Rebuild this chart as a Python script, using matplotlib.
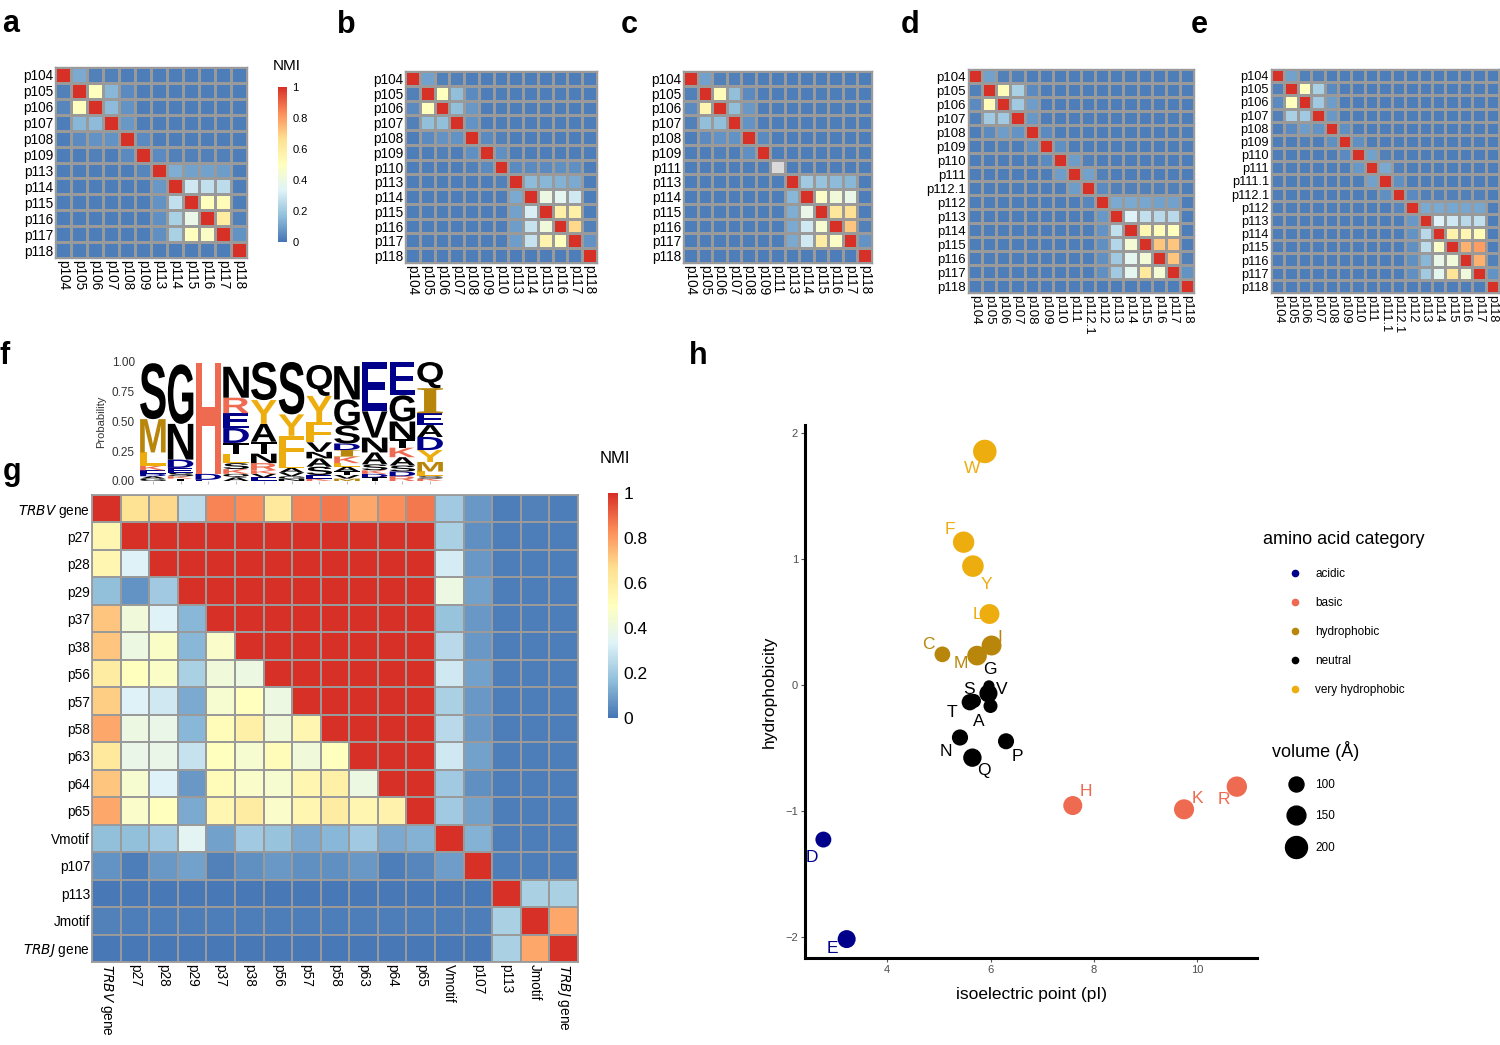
import numpy as np
import matplotlib
matplotlib.use("Agg")
import matplotlib.pyplot as plt
from matplotlib.colors import LinearSegmentedColormap
from matplotlib.cm import ScalarMappable
from matplotlib.textpath import TextPath
from matplotlib.font_manager import FontProperties
from matplotlib.patches import PathPatch
from matplotlib.transforms import Affine2D
from matplotlib.lines import Line2D

plt.rcParams['font.family'] = ['Liberation Sans', 'DejaVu Sans']

nan = np.nan

# ---------------------------------------------------------------- panels a-e
labels_a = ['p104', 'p105', 'p106', 'p107', 'p108', 'p109', 'p113', 'p114', 'p115', 'p116', 'p117', 'p118']
nmi_a = [
    [1.00, 0.12, 0.03, 0.03, 0.02, 0.02, 0.02, 0.02, 0.02, 0.02, 0.02, 0.02],
    [0.03, 1.00, 0.50, 0.15, 0.05, 0.02, 0.02, 0.02, 0.02, 0.02, 0.02, 0.02],
    [0.04, 0.50, 1.00, 0.16, 0.07, 0.02, 0.02, 0.02, 0.02, 0.02, 0.02, 0.02],
    [0.02, 0.15, 0.16, 1.00, 0.08, 0.02, 0.02, 0.02, 0.02, 0.02, 0.02, 0.02],
    [0.02, 0.05, 0.07, 0.07, 1.00, 0.05, 0.02, 0.02, 0.02, 0.02, 0.02, 0.02],
    [0.02, 0.02, 0.03, 0.02, 0.05, 1.00, 0.05, 0.03, 0.03, 0.03, 0.03, 0.02],
    [0.02, 0.02, 0.02, 0.02, 0.02, 0.04, 1.00, 0.13, 0.10, 0.10, 0.09, 0.02],
    [0.02, 0.02, 0.02, 0.02, 0.02, 0.02, 0.08, 1.00, 0.30, 0.27, 0.26, 0.02],
    [0.02, 0.02, 0.02, 0.02, 0.02, 0.02, 0.07, 0.27, 1.00, 0.50, 0.52, 0.02],
    [0.02, 0.02, 0.02, 0.02, 0.02, 0.02, 0.06, 0.22, 0.38, 1.00, 0.60, 0.03],
    [0.02, 0.02, 0.02, 0.02, 0.02, 0.02, 0.06, 0.22, 0.50, 0.48, 1.00, 0.07],
    [0.02, 0.02, 0.02, 0.02, 0.02, 0.02, 0.02, 0.02, 0.02, 0.02, 0.02, 1.00],
]

labels_b = ['p104', 'p105', 'p106', 'p107', 'p108', 'p109', 'p110', 'p113', 'p114', 'p115', 'p116', 'p117', 'p118']
nmi_b = [
    [1.00, 0.10, 0.03, 0.03, 0.02, 0.02, 0.02, 0.02, 0.02, 0.02, 0.02, 0.02, 0.02],
    [0.03, 1.00, 0.50, 0.17, 0.05, 0.02, 0.02, 0.02, 0.02, 0.02, 0.02, 0.02, 0.02],
    [0.05, 0.50, 1.00, 0.17, 0.08, 0.02, 0.02, 0.02, 0.02, 0.02, 0.02, 0.02, 0.02],
    [0.03, 0.17, 0.17, 1.00, 0.07, 0.02, 0.02, 0.02, 0.02, 0.02, 0.02, 0.02, 0.02],
    [0.02, 0.05, 0.07, 0.07, 1.00, 0.05, 0.03, 0.02, 0.02, 0.02, 0.02, 0.02, 0.02],
    [0.02, 0.02, 0.03, 0.02, 0.06, 1.00, 0.06, 0.02, 0.02, 0.02, 0.02, 0.02, 0.02],
    [0.02, 0.02, 0.02, 0.02, 0.03, 0.05, 1.00, 0.05, 0.05, 0.05, 0.06, 0.06, 0.02],
    [0.02, 0.02, 0.02, 0.02, 0.02, 0.02, 0.03, 1.00, 0.16, 0.15, 0.14, 0.12, 0.02],
    [0.02, 0.02, 0.02, 0.02, 0.02, 0.02, 0.02, 0.12, 1.00, 0.40, 0.36, 0.30, 0.02],
    [0.02, 0.02, 0.02, 0.02, 0.02, 0.02, 0.02, 0.10, 0.32, 1.00, 0.58, 0.58, 0.02],
    [0.02, 0.02, 0.02, 0.02, 0.02, 0.02, 0.02, 0.09, 0.28, 0.42, 1.00, 0.68, 0.03],
    [0.02, 0.02, 0.02, 0.02, 0.02, 0.02, 0.02, 0.09, 0.28, 0.56, 0.50, 1.00, 0.07],
    [0.02, 0.02, 0.02, 0.02, 0.02, 0.02, 0.02, 0.02, 0.02, 0.02, 0.02, 0.02, 1.00],
]

labels_c = ['p104', 'p105', 'p106', 'p107', 'p108', 'p109', 'p111', 'p113', 'p114', 'p115', 'p116', 'p117', 'p118']
nmi_c = [
    [1.00, 0.10, 0.03, 0.03, 0.02, 0.02, 0.02, 0.02, 0.02, 0.02, 0.02, 0.02, 0.02],
    [0.03, 1.00, 0.52, 0.17, 0.05, 0.02, 0.02, 0.02, 0.02, 0.02, 0.02, 0.02, 0.02],
    [0.05, 0.55, 1.00, 0.17, 0.08, 0.02, 0.02, 0.02, 0.02, 0.02, 0.02, 0.02, 0.02],
    [0.03, 0.17, 0.17, 1.00, 0.07, 0.02, 0.02, 0.02, 0.02, 0.02, 0.02, 0.02, 0.02],
    [0.02, 0.05, 0.07, 0.07, 1.00, 0.05, 0.02, 0.02, 0.02, 0.02, 0.02, 0.02, 0.02],
    [0.02, 0.02, 0.03, 0.02, 0.06, 1.00, 0.02, 0.02, 0.02, 0.02, 0.02, 0.02, 0.02],
    [0.02, 0.02, 0.02, 0.02, 0.02, 0.02, nan,  0.02, 0.02, 0.02, 0.02, 0.02, 0.02],
    [0.02, 0.02, 0.02, 0.02, 0.02, 0.02, 0.02, 1.00, 0.20, 0.18, 0.16, 0.15, 0.02],
    [0.02, 0.02, 0.02, 0.02, 0.02, 0.02, 0.02, 0.15, 1.00, 0.48, 0.42, 0.38, 0.02],
    [0.02, 0.02, 0.02, 0.02, 0.02, 0.02, 0.02, 0.13, 0.38, 1.00, 0.63, 0.66, 0.02],
    [0.02, 0.02, 0.02, 0.02, 0.02, 0.02, 0.02, 0.12, 0.30, 0.45, 1.00, 0.72, 0.03],
    [0.02, 0.02, 0.02, 0.02, 0.02, 0.02, 0.02, 0.12, 0.30, 0.60, 0.48, 1.00, 0.07],
    [0.02, 0.02, 0.02, 0.02, 0.02, 0.02, 0.02, 0.02, 0.02, 0.02, 0.02, 0.02, 1.00],
]

labels_d = ['p104', 'p105', 'p106', 'p107', 'p108', 'p109', 'p110', 'p111', 'p112.1', 'p112',
            'p113', 'p114', 'p115', 'p116', 'p117', 'p118']
nmi_d = [
    [1.00, 0.10, 0.03, 0.03, 0.02, 0.02, 0.02, 0.02, 0.02, 0.02, 0.02, 0.02, 0.02, 0.02, 0.02, 0.02],
    [0.03, 1.00, 0.52, 0.22, 0.05, 0.02, 0.02, 0.02, 0.02, 0.02, 0.02, 0.02, 0.02, 0.02, 0.02, 0.02],
    [0.05, 0.52, 1.00, 0.20, 0.09, 0.02, 0.02, 0.02, 0.02, 0.02, 0.02, 0.02, 0.02, 0.02, 0.02, 0.02],
    [0.03, 0.20, 0.20, 1.00, 0.08, 0.02, 0.02, 0.02, 0.02, 0.02, 0.02, 0.02, 0.02, 0.02, 0.02, 0.02],
    [0.02, 0.05, 0.09, 0.07, 1.00, 0.05, 0.02, 0.02, 0.02, 0.02, 0.02, 0.02, 0.02, 0.02, 0.02, 0.02],
    [0.02, 0.02, 0.03, 0.02, 0.06, 1.00, 0.06, 0.02, 0.02, 0.02, 0.02, 0.02, 0.02, 0.02, 0.02, 0.02],
    [0.02, 0.02, 0.02, 0.02, 0.02, 0.05, 1.00, 0.09, 0.03, 0.02, 0.02, 0.02, 0.02, 0.02, 0.02, 0.02],
    [0.02, 0.02, 0.02, 0.02, 0.02, 0.02, 0.09, 1.00, 0.10, 0.03, 0.02, 0.02, 0.02, 0.02, 0.02, 0.02],
    [0.02, 0.02, 0.02, 0.02, 0.02, 0.02, 0.02, 0.09, 1.00, 0.05, 0.03, 0.03, 0.03, 0.03, 0.03, 0.02],
    [0.02, 0.02, 0.02, 0.02, 0.02, 0.02, 0.02, 0.02, 0.04, 1.00, 0.12, 0.12, 0.11, 0.10, 0.10, 0.02],
    [0.02, 0.02, 0.02, 0.02, 0.02, 0.02, 0.02, 0.02, 0.02, 0.08, 1.00, 0.33, 0.27, 0.25, 0.25, 0.02],
    [0.02, 0.02, 0.02, 0.02, 0.02, 0.02, 0.02, 0.02, 0.02, 0.07, 0.27, 1.00, 0.55, 0.52, 0.50, 0.02],
    [0.02, 0.02, 0.02, 0.02, 0.02, 0.02, 0.02, 0.02, 0.02, 0.06, 0.24, 0.44, 1.00, 0.72, 0.72, 0.02],
    [0.02, 0.02, 0.02, 0.02, 0.02, 0.02, 0.02, 0.02, 0.02, 0.06, 0.20, 0.36, 0.43, 1.00, 0.72, 0.03],
    [0.02, 0.02, 0.02, 0.02, 0.02, 0.02, 0.02, 0.02, 0.02, 0.06, 0.20, 0.36, 0.62, 0.44, 1.00, 0.07],
    [0.02, 0.02, 0.02, 0.02, 0.02, 0.02, 0.02, 0.02, 0.02, 0.02, 0.02, 0.02, 0.02, 0.02, 0.02, 1.00],
]

labels_e = ['p104', 'p105', 'p106', 'p107', 'p108', 'p109', 'p110', 'p111', 'p111.1', 'p112.1', 'p112',
            'p113', 'p114', 'p115', 'p116', 'p117', 'p118']
nmi_e = [
    [1.00, 0.10, 0.03, 0.03, 0.02, 0.02, 0.02, 0.02, 0.02, 0.02, 0.02, 0.02, 0.02, 0.02, 0.02, 0.02, 0.02],
    [0.03, 1.00, 0.50, 0.22, 0.05, 0.02, 0.02, 0.02, 0.02, 0.02, 0.02, 0.02, 0.02, 0.02, 0.02, 0.02, 0.02],
    [0.05, 0.50, 1.00, 0.20, 0.09, 0.02, 0.02, 0.02, 0.02, 0.02, 0.02, 0.02, 0.02, 0.02, 0.02, 0.02, 0.02],
    [0.03, 0.22, 0.20, 1.00, 0.08, 0.02, 0.02, 0.02, 0.02, 0.02, 0.02, 0.02, 0.02, 0.02, 0.02, 0.02, 0.02],
    [0.02, 0.05, 0.09, 0.07, 1.00, 0.06, 0.02, 0.02, 0.02, 0.02, 0.02, 0.02, 0.02, 0.02, 0.02, 0.02, 0.02],
    [0.02, 0.02, 0.03, 0.02, 0.06, 1.00, 0.06, 0.02, 0.02, 0.02, 0.02, 0.02, 0.02, 0.02, 0.02, 0.02, 0.02],
    [0.02, 0.02, 0.02, 0.02, 0.02, 0.05, 1.00, 0.10, 0.03, 0.02, 0.02, 0.02, 0.02, 0.02, 0.02, 0.02, 0.02],
    [0.02, 0.02, 0.02, 0.02, 0.02, 0.02, 0.08, 1.00, 0.12, 0.03, 0.02, 0.02, 0.02, 0.02, 0.02, 0.02, 0.02],
    [0.02, 0.02, 0.02, 0.02, 0.02, 0.02, 0.02, 0.10, 1.00, 0.06, 0.02, 0.02, 0.02, 0.02, 0.02, 0.02, 0.02],
    [0.02, 0.02, 0.02, 0.02, 0.02, 0.02, 0.02, 0.02, 0.06, 1.00, 0.05, 0.03, 0.03, 0.03, 0.03, 0.03, 0.02],
    [0.02, 0.02, 0.02, 0.02, 0.02, 0.02, 0.02, 0.02, 0.02, 0.04, 1.00, 0.12, 0.12, 0.11, 0.11, 0.11, 0.02],
    [0.02, 0.02, 0.02, 0.02, 0.02, 0.02, 0.02, 0.02, 0.02, 0.02, 0.08, 1.00, 0.33, 0.30, 0.25, 0.27, 0.02],
    [0.02, 0.02, 0.02, 0.02, 0.02, 0.02, 0.02, 0.02, 0.02, 0.02, 0.07, 0.25, 1.00, 0.57, 0.55, 0.52, 0.02],
    [0.02, 0.02, 0.02, 0.02, 0.02, 0.02, 0.02, 0.02, 0.02, 0.02, 0.06, 0.26, 0.48, 1.00, 0.76, 0.80, 0.02],
    [0.02, 0.02, 0.02, 0.02, 0.02, 0.02, 0.02, 0.02, 0.02, 0.02, 0.06, 0.15, 0.38, 0.42, 1.00, 0.76, 0.03],
    [0.02, 0.02, 0.02, 0.02, 0.02, 0.02, 0.02, 0.02, 0.02, 0.02, 0.06, 0.20, 0.36, 0.64, 0.42, 1.00, 0.07],
    [0.02, 0.02, 0.02, 0.02, 0.02, 0.02, 0.02, 0.02, 0.02, 0.02, 0.02, 0.02, 0.02, 0.02, 0.02, 0.02, 1.00],
]

# ---------------------------------------------------------------- panel f (logo)
logo_letters = ['SMLKEDAG', 'GNDESKT', 'HDE', 'NREDTLSKQA', 'SYATNRKVE', 'SYFLAVGN',
                'QYFVNASEK', 'NGSDIKLATVM', 'EVNASKDT', 'EGNTKASDR', 'QIEADYMLSK']
logo_probs = [
    [0.47, 0.28, 0.11, 0.04, 0.03, 0.02, 0.02, 0.02],
    [0.50, 0.30, 0.07, 0.04, 0.03, 0.02, 0.02],
    [0.93, 0.05, 0.01],
    [0.26, 0.13, 0.125, 0.125, 0.09, 0.08, 0.05, 0.04, 0.03, 0.03],
    [0.32, 0.20, 0.15, 0.10, 0.08, 0.06, 0.03, 0.03, 0.03],
    [0.44, 0.18, 0.22, 0.05, 0.04, 0.03, 0.02, 0.02],
    [0.26, 0.22, 0.17, 0.08, 0.055, 0.07, 0.07, 0.03, 0.02],
    [0.28, 0.22, 0.15, 0.055, 0.055, 0.055, 0.03, 0.04, 0.03, 0.03, 0.02],
    [0.42, 0.22, 0.125, 0.10, 0.05, 0.03, 0.03, 0.03],
    [0.28, 0.22, 0.15, 0.07, 0.08, 0.07, 0.05, 0.04, 0.04],
    [0.22, 0.21, 0.10, 0.10, 0.11, 0.10, 0.08, 0.04, 0.02, 0.02],
]

# ---------------------------------------------------------------- panel g
labels_g = ['TRBV gene', 'p27', 'p28', 'p29', 'p37', 'p38', 'p56', 'p57', 'p58', 'p63', 'p64', 'p65',
            'Vmotif', 'p107', 'p113', 'Jmotif', 'TRBJ gene']
nmi_g = [
    [1.00, 0.65, 0.68, 0.26, 0.85, 0.83, 0.62, 0.85, 0.87, 0.78, 0.83, 0.87, 0.20, 0.08, 0.02, 0.03, 0.02],
    [0.55, 1.00, 1.00, 1.00, 1.00, 1.00, 1.00, 1.00, 1.00, 1.00, 1.00, 1.00, 0.22, 0.06, 0.02, 0.02, 0.02],
    [0.55, 0.33, 1.00, 1.00, 1.00, 1.00, 1.00, 1.00, 1.00, 1.00, 1.00, 1.00, 0.31, 0.08, 0.02, 0.02, 0.02],
    [0.17, 0.07, 0.20, 1.00, 1.00, 1.00, 1.00, 1.00, 1.00, 1.00, 1.00, 1.00, 0.40, 0.10, 0.02, 0.02, 0.02],
    [0.72, 0.42, 0.33, 0.15, 1.00, 1.00, 1.00, 1.00, 1.00, 1.00, 1.00, 1.00, 0.18, 0.08, 0.02, 0.02, 0.02],
    [0.72, 0.40, 0.48, 0.15, 0.47, 1.00, 1.00, 1.00, 1.00, 1.00, 1.00, 1.00, 0.25, 0.08, 0.02, 0.02, 0.02],
    [0.60, 0.50, 0.48, 0.22, 0.42, 0.40, 1.00, 1.00, 1.00, 1.00, 1.00, 1.00, 0.30, 0.10, 0.02, 0.02, 0.02],
    [0.70, 0.33, 0.30, 0.12, 0.45, 0.50, 0.40, 1.00, 1.00, 1.00, 1.00, 1.00, 0.22, 0.08, 0.02, 0.02, 0.02],
    [0.78, 0.40, 0.38, 0.15, 0.52, 0.58, 0.42, 0.55, 1.00, 1.00, 1.00, 1.00, 0.25, 0.08, 0.02, 0.02, 0.02],
    [0.62, 0.38, 0.38, 0.28, 0.50, 0.45, 0.52, 0.42, 0.50, 1.00, 1.00, 1.00, 0.30, 0.10, 0.02, 0.02, 0.02],
    [0.72, 0.45, 0.33, 0.08, 0.52, 0.47, 0.45, 0.55, 0.58, 0.40, 1.00, 1.00, 0.20, 0.06, 0.02, 0.02, 0.02],
    [0.78, 0.47, 0.50, 0.12, 0.55, 0.60, 0.47, 0.55, 0.60, 0.55, 0.57, 1.00, 0.20, 0.10, 0.02, 0.02, 0.02],
    [0.17, 0.17, 0.20, 0.35, 0.10, 0.20, 0.18, 0.12, 0.15, 0.20, 0.12, 0.14, 1.00, 0.14, 0.02, 0.02, 0.02],
    [0.07, 0.02, 0.08, 0.10, 0.03, 0.06, 0.08, 0.06, 0.06, 0.08, 0.02, 0.04, 0.09, 1.00, 0.02, 0.02, 0.02],
    [0.01, 0.01, 0.01, 0.01, 0.01, 0.01, 0.01, 0.01, 0.01, 0.01, 0.01, 0.01, 0.01, 0.01, 1.00, 0.22, 0.22],
    [0.03, 0.02, 0.02, 0.02, 0.02, 0.02, 0.02, 0.02, 0.02, 0.02, 0.02, 0.02, 0.02, 0.02, 0.22, 1.00, 0.78],
    [0.01, 0.01, 0.01, 0.01, 0.01, 0.01, 0.01, 0.01, 0.01, 0.01, 0.01, 0.01, 0.01, 0.01, 0.22, 0.78, 1.00],
]

# ---------------------------------------------------------------- panel h
aa = ['W', 'F', 'Y', 'L', 'I', 'M', 'C', 'G', 'S', 'V', 'T', 'A', 'N', 'Q', 'P', 'H', 'K', 'R', 'D', 'E']
aa_cat = ['very hydrophobic'] * 4 + ['hydrophobic'] * 3 + ['neutral'] * 8 + ['basic'] * 3 + ['acidic'] * 2
aa_pI = [5.89, 5.48, 5.66, 5.98, 6.02, 5.74, 5.07, 5.97, 5.68, 5.96, 5.60, 6.00, 5.41, 5.65, 6.30,
         7.59, 9.74, 10.76, 2.77, 3.22]
aa_hyd = [1.85, 1.13, 0.94, 0.56, 0.31, 0.23, 0.24, -0.01, -0.13, -0.07, -0.14, -0.17, -0.42, -0.58, -0.45,
          -0.96, -0.99, -0.81, -1.23, -2.02]
aa_vol = [227.8, 189.9, 193.6, 166.7, 166.7, 162.9, 108.5, 60.1, 89.0, 140.0, 116.1, 88.6, 114.1, 143.8, 112.7,
          153.2, 168.6, 173.4, 111.1, 138.4]
categories = ['acidic', 'basic', 'hydrophobic', 'neutral', 'very hydrophobic']
vol_breaks = [100, 150, 200]

# label offsets (pixels, right / down) - ggrepel-ish placement
lab_dx = [-13, -14, 13, -12, 8, -16, -14, 1, -5, 13, -18, -12, -14, 11, 11, 13, 13, -13, -11, -14]
lab_dy = [17, -13, 18, 0, -8, 8, -10, -16, -11, -4, 10, 16, 14, 13, 15, -14, -11, 13, 18, 9]

cat_col = {'acidic': '#00008B', 'basic': '#EE6A50', 'hydrophobic': '#B8860B',
           'neutral': 'black', 'very hydrophobic': '#EEAD0E'}
letter_cat = dict(zip(aa, aa_cat))

nmi_cmap = LinearSegmentedColormap.from_list(
    'nmi', ['#4575B4', '#91BFDB', '#E0F3F8', '#FFFFBF', '#FEE090', '#FC8D59', '#D73027'])
nmi_cmap.set_bad('#DADADA')

W, H = 1500, 1045
fig = plt.figure(figsize=(15, 10.45), dpi=100)


def px_axes(x0, y0, x1, y1):
    return fig.add_axes([x0 / W, 1 - y1 / H, (x1 - x0) / W, (y1 - y0) / H])


def heat(ax, data, labels, fs, lw=1.0, ylabels=None):
    m = np.ma.masked_invalid(np.array(data, dtype=float))
    n = len(labels)
    ax.pcolormesh(m, cmap=nmi_cmap, vmin=0, vmax=1, edgecolors='#9A9A9A', linewidth=lw)
    ax.set_xlim(0, n)
    ax.set_ylim(n, 0)
    ax.set_xticks(np.arange(n) + 0.5)
    ax.set_xticklabels(ylabels if ylabels else labels, rotation=-90, fontsize=fs)
    ax.set_yticks(np.arange(n) + 0.5)
    ax.set_yticklabels(ylabels if ylabels else labels, fontsize=fs)
    ax.tick_params(length=0, pad=1.5)
    for s in ax.spines.values():
        s.set_edgecolor('#9A9A9A')
        s.set_linewidth(lw)
    return ax


def colorbar(cax, fs):
    cb = fig.colorbar(ScalarMappable(cmap=nmi_cmap, norm=plt.Normalize(0, 1)), cax=cax)
    cb.outline.set_visible(False)
    cb.set_ticks([0, 0.2, 0.4, 0.6, 0.8, 1])
    cb.set_ticklabels(['0', '0.2', '0.4', '0.6', '0.8', '1'])
    cax.tick_params(length=0, labelsize=fs, pad=4)


heat(px_axes(55, 67, 247, 258), nmi_a, labels_a, 9.8)
heat(px_axes(405, 71, 597, 263), nmi_b, labels_b, 9.8)
heat(px_axes(683, 71, 872, 263), nmi_c, labels_c, 9.8)
heat(px_axes(968, 69, 1194, 293), nmi_d, labels_d, 9.5)
heat(px_axes(1271, 69, 1499, 293), nmi_e, labels_e, 9.2)

colorbar(px_axes(278, 87, 287, 242), 8)
fig.text(287 / W, 1 - 70 / H, 'NMI', fontsize=11, ha='center', va='baseline')

# ---------------------------------------------------------------- logo
axf = px_axes(139, 362, 444, 481)
font_sans = FontProperties(family='Liberation Sans', weight='bold')
font_serif = FontProperties(family='Liberation Serif', weight='bold')
for i, (letters, probs) in enumerate(zip(logo_letters, logo_probs)):
    y = 0.0
    for ch, p in reversed(list(zip(letters, probs))):
        tp = TextPath((0, 0), ch, size=1, prop=font_serif if ch == 'I' else font_sans)
        bb = tp.get_extents()
        tr = Affine2D().translate(-bb.x0, -bb.y0).scale(0.92 / bb.width, p / bb.height) \
            .translate(i + 1 - 0.46, y)
        axf.add_patch(PathPatch(tr.transform_path(tp), facecolor=cat_col[letter_cat[ch]],
                                edgecolor='none'))
        y += p
axf.set_xlim(0.5, len(logo_letters) + 0.5)
axf.set_ylim(0, 1)
for s in axf.spines.values():
    s.set_visible(False)
axf.set_yticks([0, 0.25, 0.5, 0.75, 1.0])
axf.set_yticklabels(['0.00', '0.25', '0.50', '0.75', '1.00'], fontsize=8.5, color='#333333')
axf.set_xticks(np.arange(1, len(logo_letters) + 1))
axf.set_xticklabels([])
axf.tick_params(axis='y', length=0, pad=3)
axf.tick_params(axis='x', length=2, color='#BBBBBB', width=0.8)
axf.set_ylabel('Probability', fontsize=8, color='#333333', labelpad=4)

# ---------------------------------------------------------------- panel g
g_ticklabels = [r'$\it{TRBV}$ gene'] + labels_g[1:-1] + [r'$\it{TRBJ}$ gene']
heat(px_axes(92, 495, 578, 962), nmi_g, labels_g, 9.8, lw=1.3, ylabels=g_ticklabels)
colorbar(px_axes(608, 493, 618, 718), 12.5)
fig.text(615 / W, 1 - 463 / H, 'NMI', fontsize=12, ha='center', va='baseline')

# ---------------------------------------------------------------- panel h
axh = px_axes(805, 425, 1257, 958)
sizes = [1.33 * v - 16 for v in aa_vol]
cols = [cat_col[c] for c in aa_cat]
axh.scatter(aa_pI, aa_hyd, s=sizes, c=cols, edgecolors='none', zorder=3)
for a, x, y, c, dx, dy in zip(aa, aa_pI, aa_hyd, cols, lab_dx, lab_dy):
    axh.annotate(a, (x, y), xytext=(dx * 0.72, -dy * 0.72), textcoords='offset points',
                 ha='center', va='center', color=c, fontsize=12.5, zorder=4)
axh.set_xlim(2.415, 11.15)
axh.set_ylim(-2.17, 2.06)
axh.spines['top'].set_visible(False)
axh.spines['right'].set_visible(False)
axh.spines['left'].set_linewidth(2.2)
axh.spines['bottom'].set_linewidth(2.2)
axh.set_xticks([4, 6, 8, 10])
axh.set_yticks([-2, -1, 0, 1, 2])
axh.tick_params(length=3, width=0.8, color='#555555', labelsize=8, labelcolor='#4D4D4D', pad=2)
axh.set_xlabel('isoelectric point (pI)', fontsize=12.5, labelpad=9)
axh.set_ylabel('hydrophobicity', fontsize=12.5, labelpad=6)

h1 = [Line2D([], [], marker='o', ls='', color=cat_col[c], markersize=4.5) for c in categories]
fig.legend(h1, categories, loc='upper left', bbox_to_anchor=(1288 / W, 1 - 568 / H),
           frameon=False, fontsize=8.5, labelspacing=1.45, handletextpad=1.1,
           borderpad=0, borderaxespad=0, handlelength=1.2)
fig.text(1263 / W, 1 - 544 / H, 'amino acid category', fontsize=13, ha='left', va='baseline')

h2 = [Line2D([], [], marker='o', ls='', color='black', markersize=np.sqrt(1.33 * v - 16)) for v in vol_breaks]
fig.legend(h2, [str(v) for v in vol_breaks], loc='upper left', bbox_to_anchor=(1287 / W, 1 - 779 / H),
           frameon=False, fontsize=8.5, labelspacing=1.65, handletextpad=0.8,
           borderpad=0, borderaxespad=0, handlelength=1.6)
fig.text(1272 / W, 1 - 757 / H, 'volume (Å)', fontsize=13, ha='left', va='baseline')

# ---------------------------------------------------------------- panel letters
for t, x, y in [('a', 2, 32), ('b', 337, 33), ('c', 621, 33), ('d', 901, 33), ('e', 1191, 33),
                ('f', 0, 364), ('g', 3, 480), ('h', 689, 364)]:
    fig.text(x / W, 1 - y / H, t, fontsize=22, fontweight='bold', ha='left', va='baseline')

fig.savefig('out.png', dpi=100)
